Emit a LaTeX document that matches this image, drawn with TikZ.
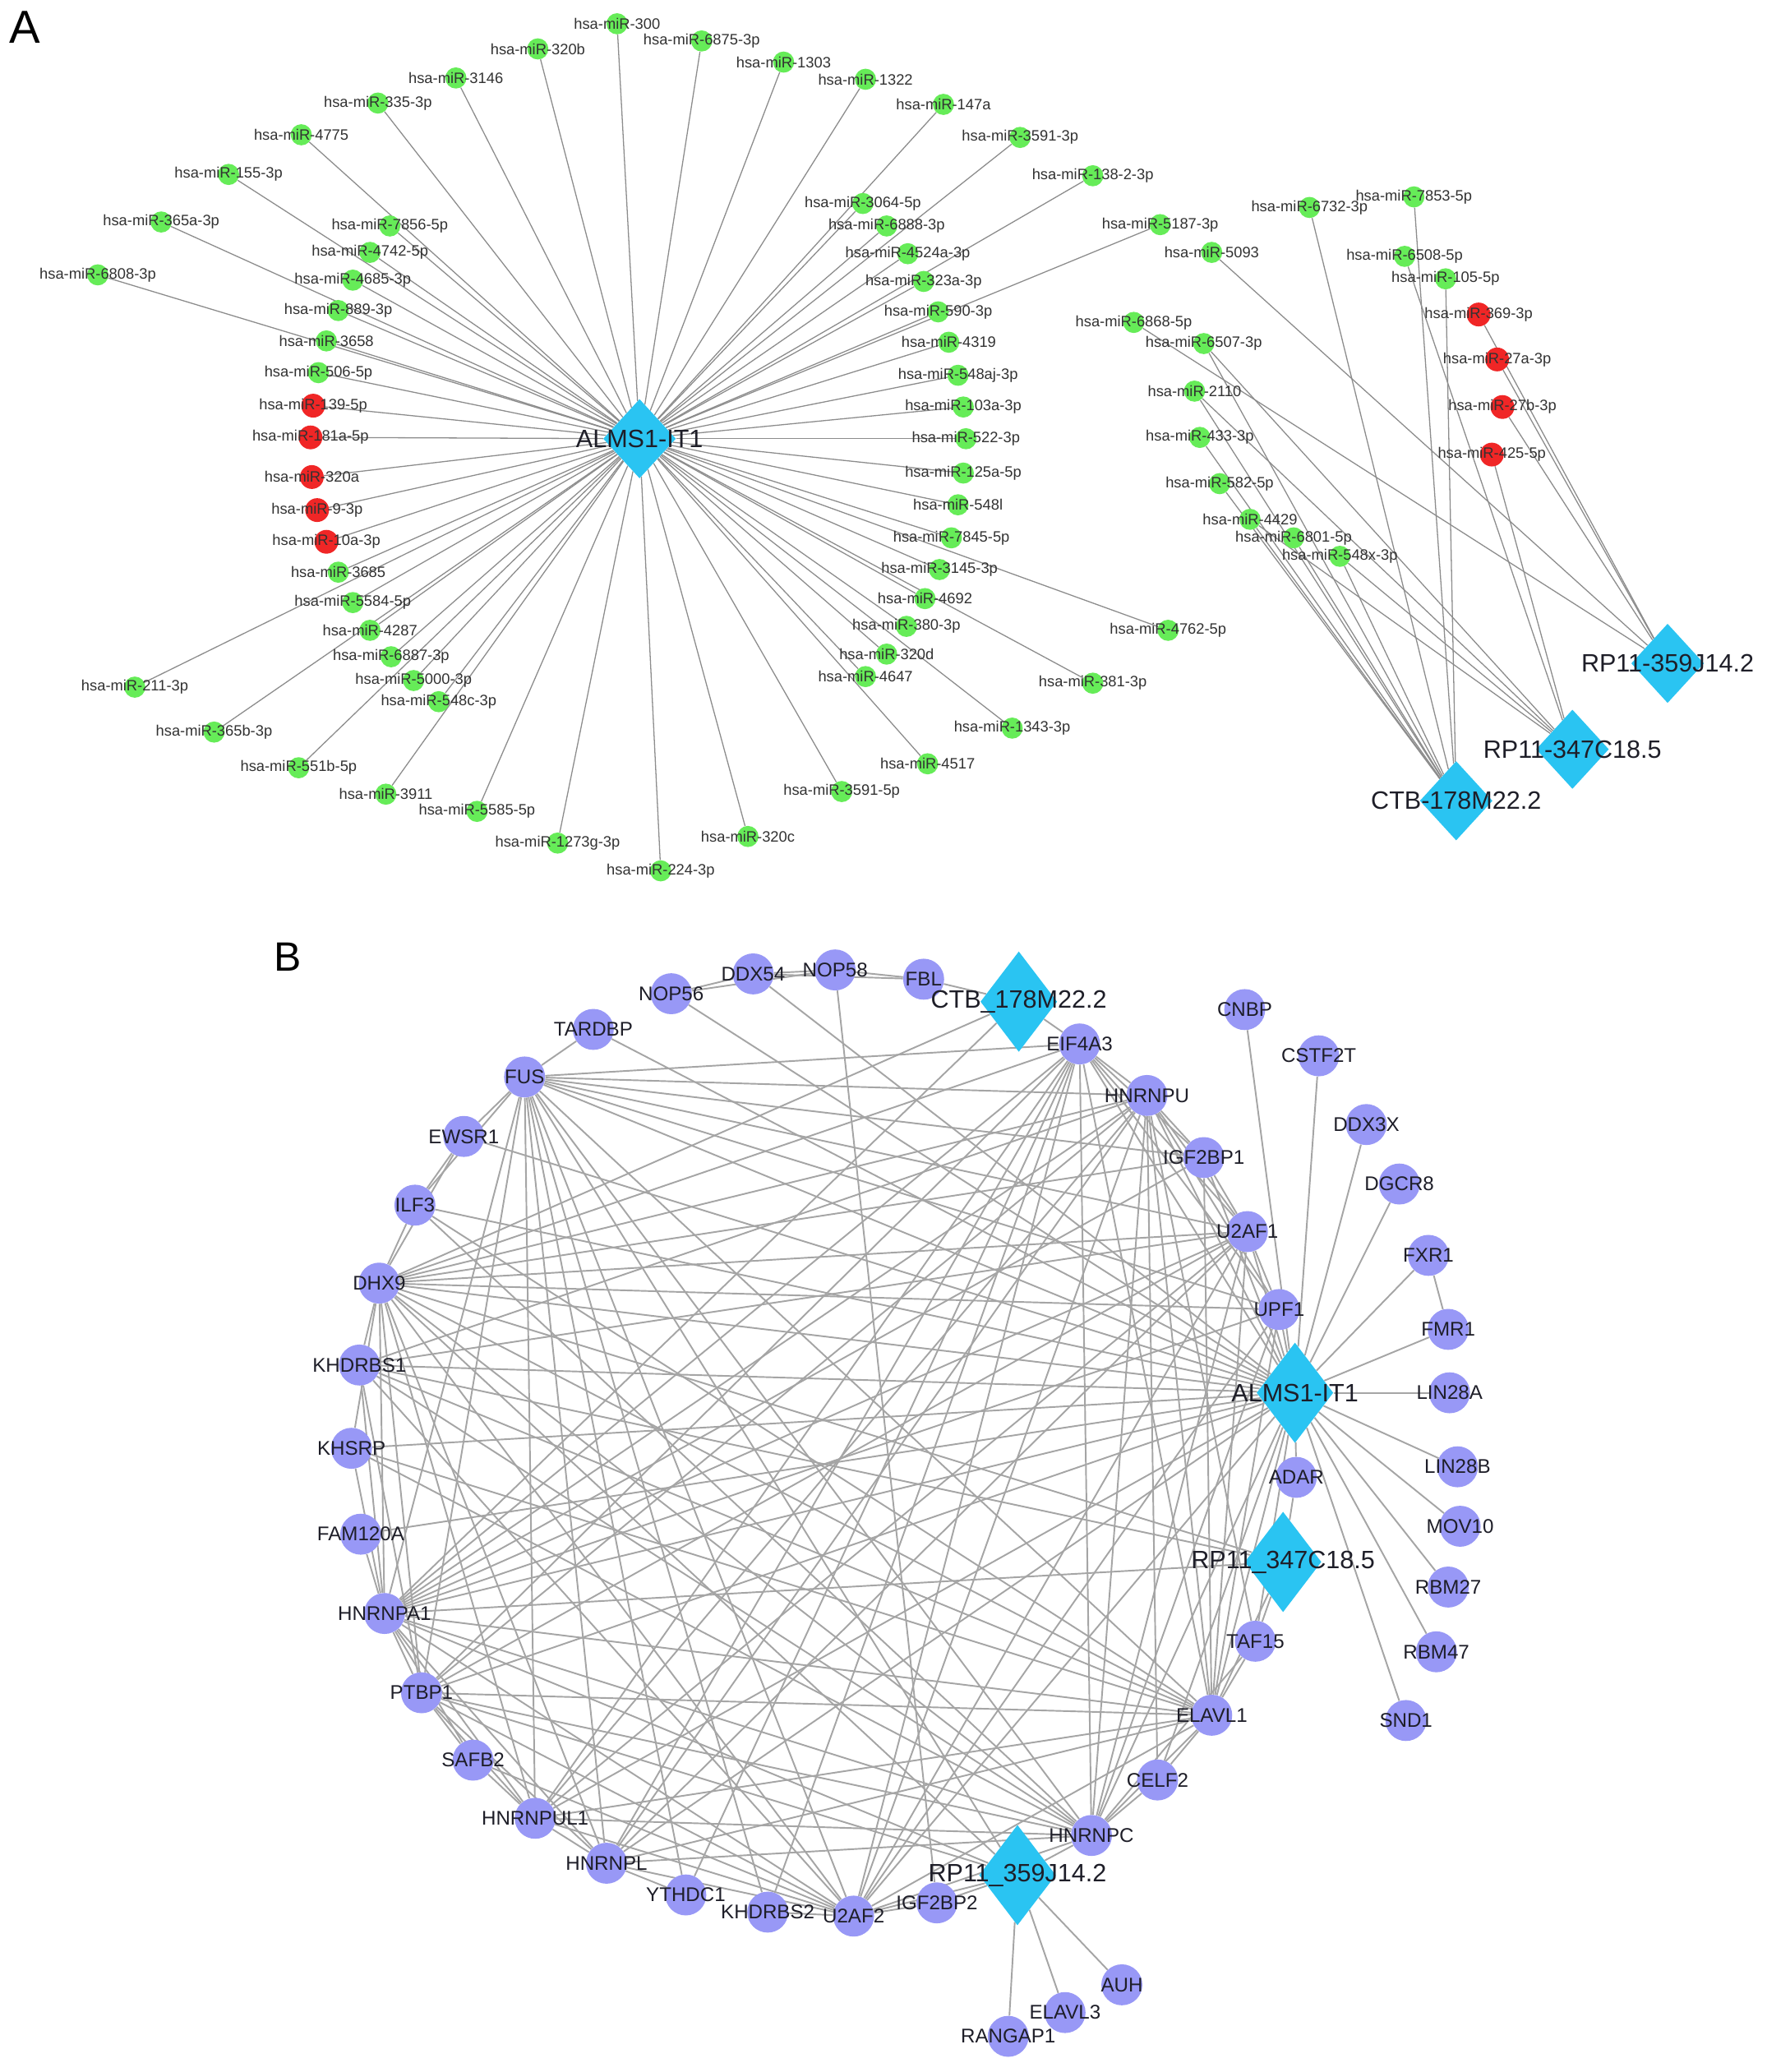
\documentclass[tikz,border=0pt]{standalone}
\usepackage{fontspec}
\setmainfont{Liberation Sans}
\usetikzlibrary{shapes.geometric,backgrounds}
\definecolor{gcol}{RGB}{102,236,88}
\definecolor{rcol}{RGB}{240,38,38}
\definecolor{pcol}{RGB}{152,152,246}
\definecolor{dcol}{RGB}{42,196,242}
\definecolor{labA}{RGB}{50,50,50}
\definecolor{labB}{RGB}{30,30,40}
\definecolor{ecolA}{RGB}{140,140,140}
\definecolor{ecolB}{RGB}{165,165,165}
\tikzset{
  alab/.style={font=\fontsize{11.4}{12}\selectfont, text=labA, inner sep=0pt},
  blab/.style={font=\fontsize{15}{16}\selectfont, text=labB, inner sep=0pt},
  biglab/.style={font=\fontsize{19}{20}\selectfont, text=labB, inner sep=0pt},
  panlabA/.style={font=\fontsize{35}{36}\selectfont, text=black, inner sep=0pt},
  panlabB/.style={font=\fontsize{31}{32}\selectfont, text=black, inner sep=0pt},
  gn/.style={circle, fill=gcol, inner sep=0pt, minimum size=16pt},
  rn/.style={circle, fill=rcol, inner sep=0pt, minimum size=18pt},
  pn/.style={circle, fill=pcol, inner sep=0pt, minimum size=31pt},
  dA/.style={diamond, fill=dcol, inner sep=0pt, minimum width=55pt, minimum height=60pt},
  dB/.style={diamond, fill=dcol, inner sep=0pt, minimum width=58pt, minimum height=76pt},
  ea/.style={draw=ecolA, line width=0.8pt},
  eb/.style={draw=ecolB, line width=1.2pt}
}
\newcommand\mkG[4]{\node[gn] (#1) at (#2,#3) {}; \node[alab] (#1t) at (#1.center) {#4};}
\newcommand\mkR[4]{\node[rn] (#1) at (#2,#3) {}; \node[alab] (#1t) at (#1.center) {#4};}
\newcommand\mkP[4]{\node[pn] (#1) at (#2,#3) {}; \node[blab] (#1t) at (#1.center) {#4};}
\newcommand\mkDA[4]{\node[dA] (#1) at (#2,#3) {}; \node[biglab] (#1t) at (#1.center) {#4};}
\newcommand\mkDB[4]{\node[dB] (#1) at (#2,#3) {}; \node[biglab] (#1t) at (#1.center) {#4};}
\begin{document}
\begin{tikzpicture}[x=1pt,y=-1pt]
\useasboundingbox (0,0) rectangle (1337,1568);
% ---------------- Panel A ----------------
\node[panlabA] (labA) at (19,20.5) {A};
\mkG{m300}{467}{18}{hsa-miR-300}
\mkG{m320b}{407}{37}{hsa-miR-320b}
\mkG{m6875}{531}{31}{hsa-miR-6875-3p}
\mkG{m1303}{593}{47}{hsa-miR-1303}
\mkG{m1322}{655}{60}{hsa-miR-1322}
\mkG{m147a}{714}{79}{hsa-miR-147a}
\mkG{m3591a}{772}{104}{hsa-miR-3591-3p}
\mkG{m1382}{827}{133}{hsa-miR-138-2-3p}
\mkG{m3146}{345}{59}{hsa-miR-3146}
\mkG{m335}{286}{78}{hsa-miR-335-3p}
\mkG{m4775}{228}{102}{hsa-miR-4775}
\mkG{m155}{173}{132}{hsa-miR-155-3p}
\mkG{m365a}{122}{168}{hsa-miR-365a-3p}
\mkG{m6808}{74}{208}{hsa-miR-6808-3p}
\mkG{m7856}{295}{171}{hsa-miR-7856-5p}
\mkG{m4742}{280}{191}{hsa-miR-4742-5p}
\mkG{m4685}{267}{212}{hsa-miR-4685-3p}
\mkG{m889}{256}{235}{hsa-miR-889-3p}
\mkG{m3658}{247}{258}{hsa-miR-3658}
\mkG{m506}{241}{282}{hsa-miR-506-5p}
\mkR{m139}{237}{307}{hsa-miR-139-5p}
\mkR{m181a}{235}{331}{hsa-miR-181a-5p}
\mkR{m320a}{236}{361}{hsa-miR-320a}
\mkR{m93p}{240}{386}{hsa-miR-9-3p}
\mkR{m10a}{247}{410}{hsa-miR-10a-3p}
\mkG{m3685}{256}{433}{hsa-miR-3685}
\mkG{m5584}{267}{456}{hsa-miR-5584-5p}
\mkG{m4287}{280}{477}{hsa-miR-4287}
\mkG{m6887}{296}{497}{hsa-miR-6887-3p}
\mkG{m5000}{313}{515}{hsa-miR-5000-3p}
\mkG{m548c}{332}{531}{hsa-miR-548c-3p}
\mkG{m211}{102}{520}{hsa-miR-211-3p}
\mkG{m365b}{162}{554}{hsa-miR-365b-3p}
\mkG{m551b}{226}{581}{hsa-miR-551b-5p}
\mkG{m3911}{292}{601}{hsa-miR-3911}
\mkG{m5585}{361}{614}{hsa-miR-5585-5p}
\mkG{m1273g}{422}{638}{hsa-miR-1273g-3p}
\mkG{m224}{500}{659}{hsa-miR-224-3p}
\mkG{m320c}{566}{633}{hsa-miR-320c}
\mkG{m3591b}{637}{599}{hsa-miR-3591-5p}
\mkG{m4517}{702}{578}{hsa-miR-4517}
\mkG{m1343}{766}{551}{hsa-miR-1343-3p}
\mkG{m381}{827}{517}{hsa-miR-381-3p}
\mkG{m4762}{884}{477}{hsa-miR-4762-5p}
\mkG{m4647}{655}{512}{hsa-miR-4647}
\mkG{m320d}{671}{495}{hsa-miR-320d}
\mkG{m380}{686}{474}{hsa-miR-380-3p}
\mkG{m4692}{700}{453}{hsa-miR-4692}
\mkG{m3145}{711}{431}{hsa-miR-3145-3p}
\mkG{m7845}{720}{407}{hsa-miR-7845-5p}
\mkG{m548l}{725}{382}{hsa-miR-548l}
\mkG{m125a}{729}{358}{hsa-miR-125a-5p}
\mkG{m522}{731}{332}{hsa-miR-522-3p}
\mkG{m103a}{729}{308}{hsa-miR-103a-3p}
\mkG{m548aj}{725}{284}{hsa-miR-548aj-3p}
\mkG{m4319}{718}{259}{hsa-miR-4319}
\mkG{m590}{710}{236}{hsa-miR-590-3p}
\mkG{m323a}{699}{213}{hsa-miR-323a-3p}
\mkG{m4524a}{687}{192}{hsa-miR-4524a-3p}
\mkG{m6888}{671}{171}{hsa-miR-6888-3p}
\mkG{m3064}{653}{154}{hsa-miR-3064-5p}
\mkG{m5187}{878}{170}{hsa-miR-5187-3p}
\mkDA{aAL}{484}{332}{ALMS1-IT1}
% right cluster
\mkG{m6732}{991}{157}{hsa-miR-6732-3p}
\mkG{m7853}{1070}{149}{hsa-miR-7853-5p}
\mkG{m5093}{917}{191}{hsa-miR-5093}
\mkG{m6508}{1063}{194}{hsa-miR-6508-5p}
\mkG{m105}{1094}{211}{hsa-miR-105-5p}
\mkR{m369}{1119}{238}{hsa-miR-369-3p}
\mkR{m27a}{1133}{272}{hsa-miR-27a-3p}
\mkR{m27b}{1137}{308}{hsa-miR-27b-3p}
\mkR{m425}{1129}{344}{hsa-miR-425-5p}
\mkG{m6868}{858}{244}{hsa-miR-6868-5p}
\mkG{m6507}{911}{260}{hsa-miR-6507-3p}
\mkG{m2110}{904}{296}{hsa-miR-2110}
\mkG{m433}{908}{331}{hsa-miR-433-3p}
\mkG{m582}{923}{366}{hsa-miR-582-5p}
\mkG{m4429}{946}{393}{hsa-miR-4429}
\mkG{m6801}{979}{407}{hsa-miR-6801-5p}
\mkG{m548x}{1014}{421}{hsa-miR-548x-3p}
\mkDA{aRP359}{1262}{502}{RP11-359J14.2}
\mkDA{aRP347}{1190}{567}{RP11-347C18.5}
\mkDA{aCTB}{1102}{606}{CTB-178M22.2}
% ---------------- Panel B ----------------
\node[panlabB] (labB) at (218,724.5) {B};
\mkP{nop58}{632}{734}{NOP58}
\mkP{fbl}{699}{741}{FBL}
\mkDB{ctb}{771}{758}{CTB\_178M22.2}
\mkP{eif}{817}{790}{EIF4A3}
\mkP{cnbp}{942}{764}{CNBP}
\mkP{cstf}{998}{799}{CSTF2T}
\mkP{hnrnpu}{868}{829}{HNRNPU}
\mkP{ddx3x}{1034}{851}{DDX3X}
\mkP{igf1}{911}{876}{IGF2BP1}
\mkP{dgcr8}{1059}{896}{DGCR8}
\mkP{u2af1}{944}{932}{U2AF1}
\mkP{fxr1}{1081}{950}{FXR1}
\mkP{upf1}{968}{991}{UPF1}
\mkP{fmr1}{1096}{1006}{FMR1}
\mkDB{alms}{980}{1054}{ALMS1-IT1}
\mkP{lin28a}{1097}{1054}{LIN28A}
\mkP{lin28b}{1103}{1110}{LIN28B}
\mkP{adar}{981}{1118}{ADAR}
\mkP{mov10}{1105}{1155}{MOV10}
\mkDB{rp347}{971}{1182}{RP11\_347C18.5}
\mkP{rbm27}{1096}{1201}{RBM27}
\mkP{taf15}{950}{1242}{TAF15}
\mkP{rbm47}{1087}{1250}{RBM47}
\mkP{elavl1}{917}{1298}{ELAVL1}
\mkP{snd1}{1064}{1302}{SND1}
\mkP{celf2}{876}{1347}{CELF2}
\mkP{igf2}{709}{1440}{IGF2BP2}
\mkDB{rp359}{770}{1419}{RP11\_359J14.2}
\mkP{hnrnpc}{826}{1389}{HNRNPC}
\mkP{u2af2}{646}{1450}{U2AF2}
\mkP{khd2}{581}{1447}{KHDRBS2}
\mkP{ythdc1}{519}{1434}{YTHDC1}
\mkP{hnrnpl}{459}{1410}{HNRNPL}
\mkP{hnrnpul1}{405}{1376}{HNRNPUL1}
\mkP{safb2}{358}{1332}{SAFB2}
\mkP{ptbp1}{319}{1281}{PTBP1}
\mkP{hnrnpa1}{291}{1221}{HNRNPA1}
\mkP{fam}{273}{1161}{FAM120A}
\mkP{khsrp}{266}{1096}{KHSRP}
\mkP{khd1}{272}{1033}{KHDRBS1}
\mkP{dhx9}{287}{971}{DHX9}
\mkP{ilf3}{314}{912}{ILF3}
\mkP{ewsr1}{351}{860}{EWSR1}
\mkP{fus}{397}{815}{FUS}
\mkP{tardbp}{449}{779}{TARDBP}
\mkP{nop56}{508}{752}{NOP56}
\mkP{ddx54}{570}{737}{DDX54}
\mkP{auh}{849}{1502}{AUH}
\mkP{elavl3}{806}{1523}{ELAVL3}
\mkP{rangap1}{763}{1541}{RANGAP1}
% ---------------- Edges ----------------
\begin{pgfonlayer}{background}
\fill[white] (0,0) rectangle (1337,1568);
\foreach \t in {m300,m320b,m6875,m1303,m1322,m147a,m3591a,m1382,m3146,m335,m4775,m155,m365a,m6808,m7856,m4742,m4685,m889,m3658,m506,m139,m181a,m320a,m93p,m10a,m3685,m5584,m4287,m6887,m5000,m548c,m211,m365b,m551b,m3911,m5585,m1273g,m224,m320c,m3591b,m4517,m1343,m381,m4762,m4647,m320d,m380,m4692,m3145,m7845,m548l,m125a,m522,m103a,m548aj,m4319,m590,m323a,m4524a,m6888,m3064,m5187}
  \draw[ea] (aAL) -- (\t);
\foreach \t in {m5093,m369,m27a,m27b,m6868}
  \draw[ea] (aRP359) -- (\t);
\foreach \t in {m6508,m425,m6507,m2110,m548x,m4429}
  \draw[ea] (aRP347) -- (\t);
\foreach \t in {m6732,m7853,m105,m6507,m2110,m433,m582,m4429,m6801,m548x}
  \draw[ea] (aCTB) -- (\t);
% panel B
\foreach \t in {cnbp,cstf,ddx3x,dgcr8,fxr1,fmr1,lin28a,lin28b,mov10,rbm27,rbm47,snd1,upf1,u2af1,igf1,hnrnpu,eif,adar,taf15,elavl1,celf2,hnrnpc,u2af2,hnrnpl,hnrnpul1,ptbp1,hnrnpa1,fam,khsrp,khd1,dhx9,ilf3,ewsr1,fus,tardbp,nop56,ddx54}
  \draw[eb] (alms) -- (\t);
\draw[eb] (fxr1) -- (fmr1);
\foreach \t in {auh,elavl3,rangap1,hnrnpc,igf2,u2af2,ptbp1,hnrnpa1,dhx9,fus}
  \draw[eb] (rp359) -- (\t);
\foreach \t in {taf15,adar,elavl1,hnrnpa1,dhx9,khd1}
  \draw[eb] (rp347) -- (\t);
\foreach \t in {fbl,eif,dhx9,hnrnpa1}
  \draw[eb] (ctb) -- (\t);
\foreach \u/\v in {upf1/u2af1,upf1/hnrnpu,upf1/eif,upf1/elavl1,upf1/hnrnpc,upf1/u2af2,upf1/dhx9,upf1/fus,upf1/hnrnpa1,
  u2af1/igf1,u2af1/hnrnpu,u2af1/eif,u2af1/elavl1,u2af1/hnrnpc,u2af1/u2af2,u2af1/hnrnpl,u2af1/hnrnpul1,u2af1/ptbp1,u2af1/hnrnpa1,u2af1/dhx9,u2af1/fus,u2af1/khd1,
  igf1/hnrnpu,igf1/eif,igf1/elavl1,igf1/hnrnpa1,igf1/dhx9,igf1/fus,
  hnrnpu/eif,hnrnpu/elavl1,hnrnpu/hnrnpc,hnrnpu/u2af2,hnrnpu/hnrnpl,hnrnpu/hnrnpul1,hnrnpu/ptbp1,hnrnpu/hnrnpa1,hnrnpu/khd1,hnrnpu/dhx9,hnrnpu/fus,hnrnpu/celf2,hnrnpu/taf15,
  eif/elavl1,eif/hnrnpc,eif/u2af2,eif/hnrnpl,eif/hnrnpul1,eif/ptbp1,eif/hnrnpa1,eif/dhx9,eif/fus,eif/ythdc1,eif/khd2,
  elavl1/taf15,elavl1/celf2,elavl1/hnrnpc,elavl1/u2af2,elavl1/hnrnpl,elavl1/hnrnpul1,elavl1/ptbp1,elavl1/hnrnpa1,elavl1/khsrp,elavl1/khd1,elavl1/dhx9,elavl1/ilf3,elavl1/fus,
  hnrnpc/celf2,hnrnpc/u2af2,hnrnpc/hnrnpl,hnrnpc/hnrnpul1,hnrnpc/ptbp1,hnrnpc/hnrnpa1,hnrnpc/khd1,hnrnpc/dhx9,hnrnpc/ilf3,hnrnpc/fus,hnrnpc/taf15,hnrnpc/khsrp,
  u2af2/igf2,u2af2/hnrnpl,u2af2/hnrnpul1,u2af2/ptbp1,u2af2/hnrnpa1,u2af2/dhx9,u2af2/fus,u2af2/khd1,u2af2/safb2,u2af2/khd2,
  hnrnpl/hnrnpul1,hnrnpl/ythdc1,hnrnpl/ptbp1,hnrnpl/hnrnpa1,hnrnpl/dhx9,hnrnpl/fus,
  hnrnpul1/safb2,hnrnpul1/ptbp1,hnrnpul1/hnrnpa1,hnrnpul1/dhx9,hnrnpul1/fus,
  ptbp1/safb2,ptbp1/hnrnpa1,ptbp1/dhx9,ptbp1/fus,ptbp1/khd1,
  hnrnpa1/fam,hnrnpa1/khsrp,hnrnpa1/khd1,hnrnpa1/dhx9,hnrnpa1/fus,hnrnpa1/safb2,
  dhx9/ilf3,dhx9/khd1,dhx9/khsrp,dhx9/ewsr1,
  fus/tardbp,fus/ewsr1,fus/ilf3,fus/ythdc1,fus/khd2,ilf3/ewsr1,
  nop58/fbl,nop58/ddx54,nop58/nop56,nop58/igf2,ddx54/nop56,ddx54/fbl}
  \draw[eb] (\u) -- (\v);
\end{pgfonlayer}
\end{tikzpicture}
\end{document}
